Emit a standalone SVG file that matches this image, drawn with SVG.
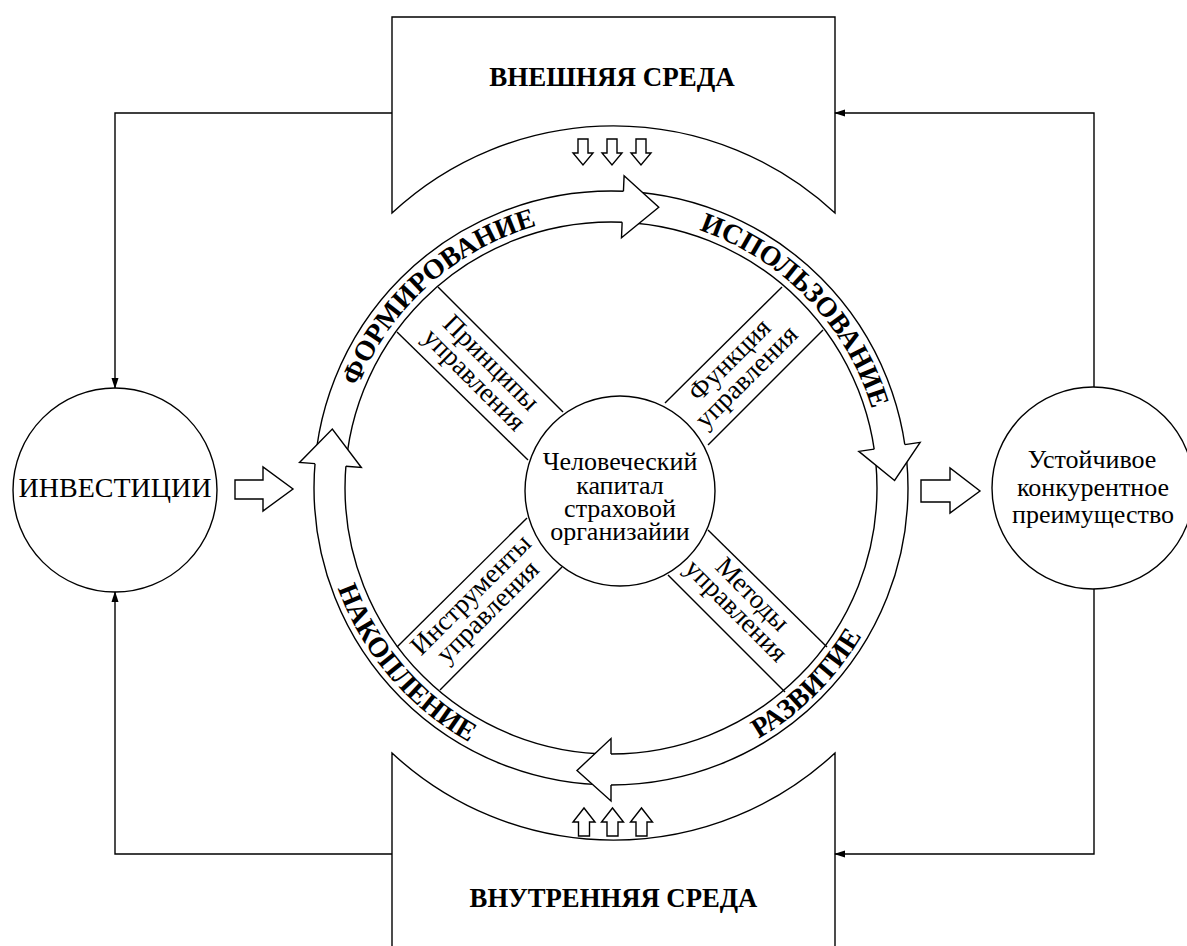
<svg xmlns="http://www.w3.org/2000/svg" width="1187" height="946" viewBox="0 0 1187 946">
<defs>
<style>
.s{fill:none;stroke:#000;stroke-width:1.4}
.w{fill:#fff;stroke:#000;stroke-width:1.4;stroke-linejoin:miter}
.t{font-family:'Liberation Serif','Times New Roman',serif;fill:#000;text-anchor:middle}
.b{font-weight:bold}
.r{font-size:28px;font-weight:bold}
.k{font-size:27px}
</style>
<marker id="ah" markerWidth="11" markerHeight="8" refX="10" refY="4" orient="auto" markerUnits="userSpaceOnUse"><path d="M0,0.5 L11,4 L0,7.5 z" fill="#000"/></marker>
<path id="dn" d="M-5,0 L5,0 L5,14 L10,14 L0,26 L-10,14 L-5,14 Z"/>
<path id="up" d="M-5.5,0 L5.5,0 L5.5,-14 L11,-14 L0,-28 L-11,-14 L-5.5,-14 Z"/>
<path id="p1" d="M345.48,426.70 A272.5,272.5 0 0,1 577.79,217.53"/>
<path id="p2" d="M663.00,220.51 A272.5,272.5 0 0,1 880.15,445.37"/>
<path id="p3" d="M661.53,774.58 A291,291 0 0,0 897.58,538.53"/>
<path id="p4" d="M321.34,515.89 A291,291 0 0,0 538.14,769.73"/>
</defs>
<rect width="1187" height="946" fill="#fff"/>

<g id="external-environment">
<path class="w" d="M392,213 L392,17 L835,17 L835,213 A325,325 0 0,0 392,213 Z"/>
<text class="t b" x="612" y="86" font-size="27">ВНЕШНЯЯ СРЕДА</text>
<use href="#dn" class="w" x="583" y="139"/>
<use href="#dn" class="w" x="612" y="139"/>
<use href="#dn" class="w" x="641" y="139"/>
</g>

<g id="internal-environment">
<path class="w" d="M392,950 L392,753 A325,325 0 0,0 835,753 L835,950"/>
<text class="t b" x="613.5" y="907" font-size="26.7">ВНУТРЕННЯЯ СРЕДА</text>
<use href="#up" class="w" x="584" y="836"/>
<use href="#up" class="w" x="612.5" y="836"/>
<use href="#up" class="w" x="641.5" y="836"/>
</g>

<g id="investments">
<circle class="w" cx="115" cy="490" r="102"/>
<text class="t" x="115" y="497" font-size="28">ИНВЕСТИЦИИ</text>
</g>

<g id="advantage">
<circle class="w" cx="1093" cy="488" r="101"/>
<text class="t" font-size="26"><tspan x="1092" y="468">Устойчивое</tspan><tspan x="1093" y="496">конкурентное</tspan><tspan x="1093" y="523">преимущество</tspan></text>
</g>

<g id="cycle">
<circle class="s" cx="611" cy="488" r="297"/>
<circle class="s" cx="611" cy="488" r="266"/>
<text class="t r"><textPath href="#p1" startOffset="50%">ФОРМИРОВАНИЕ</textPath></text>
<text class="t r"><textPath href="#p2" startOffset="50%">ИСПОЛЬЗОВАНИЕ</textPath></text>
<text class="t r"><textPath href="#p3" startOffset="50%">РАЗВИТИЕ</textPath></text>
<text class="t r"><textPath href="#p4" startOffset="50%">НАКОПЛЕНИЕ</textPath></text>
<path class="w" d="M623.44,191.26 L624.09,175.78 L658.76,207.22 L621.49,237.72 L622.14,222.23"/>
<path class="w" d="M904.81,444.61 L920.15,442.35 L894.59,480.50 L858.81,451.41 L874.15,449.14"/>
<path class="w" d="M611,785 L611,801 L577,770.5 L611,738.5 L611,754"/>
<path class="w" d="M315.0,463.66 L299.55,462.39 L332.32,429.05 L361.35,467.47 L345.89,466.20"/>
</g>

<g id="spoke-principles">
<line class="s" x1="438" y1="287" x2="563" y2="412"/>
<line class="s" x1="397" y1="332" x2="528" y2="460"/>
<g transform="translate(481,373) rotate(45)"><text class="t k" x="0" y="-6">Принципы</text><text class="t k" x="0" y="18">управления</text></g>
</g>
<g id="spoke-function">
<line class="s" x1="782" y1="287" x2="665" y2="403"/>
<line class="s" x1="823" y1="330" x2="708" y2="445"/>
<g transform="translate(744,366) rotate(-45)"><text class="t k" x="-6" y="-6">Функция</text><text class="t k" x="-6" y="18">управления</text></g>
</g>
<g id="spoke-instruments">
<line class="s" x1="397" y1="647" x2="527" y2="518"/>
<line class="s" x1="440" y1="690" x2="562" y2="567"/>
<g transform="translate(481,605) rotate(-45)"><text class="t k" x="0" y="-6">Инструменты</text><text class="t k" x="0" y="18">управления</text></g>
</g>
<g id="spoke-methods">
<line class="s" x1="708" y1="530" x2="827" y2="647"/>
<line class="s" x1="668" y1="575" x2="785" y2="692"/>
<g transform="translate(747,611) rotate(45)"><text class="t k" x="-8" y="-7">Методы</text><text class="t k" x="-8" y="16">управления</text></g>
</g>

<g id="human-capital">
<circle class="w" cx="620" cy="491" r="95"/>
<text class="t" font-size="26"><tspan x="620" y="470">Человеческий</tspan><tspan x="620" y="493.5">капитал</tspan><tspan x="620" y="517">страховой</tspan><tspan x="620" y="540">организайии</tspan></text>
</g>

<g id="connectors">
<polyline class="s" points="392,113 115,113 115,388" marker-end="url(#ah)"/>
<polyline class="s" points="392,854 115,854 115,592" marker-end="url(#ah)"/>
<polyline class="s" points="1094,387 1094,113 835,113" marker-end="url(#ah)"/>
<polyline class="s" points="1094,589 1094,854 835,854" marker-end="url(#ah)"/>
<path class="w" d="M235,480 L263,480 L263,467 L293,489 L263,511 L263,499 L235,499 Z"/>
<path class="w" d="M921,480 L950,480 L950,468 L980,491 L950,513 L950,502 L921,502 Z"/>
</g>
</svg>
